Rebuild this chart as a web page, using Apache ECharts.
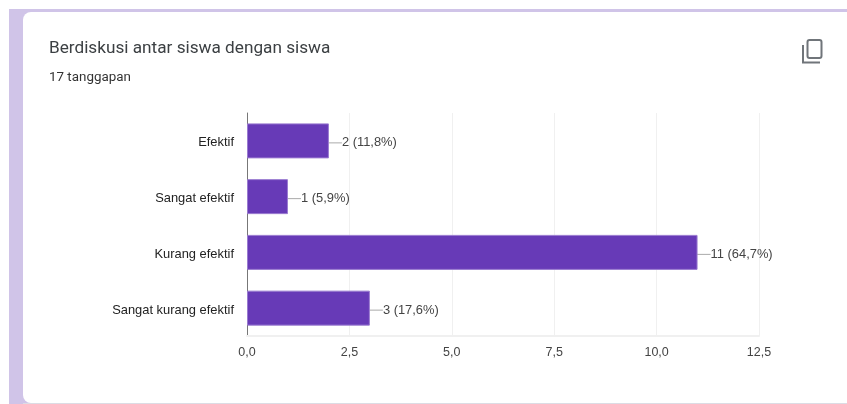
<!DOCTYPE html>
<html>
<head>
<meta charset="utf-8">
<style>
  html, body { margin: 0; padding: 0; background: #fff; }
  #chart { width: 847px; height: 404px; }
</style>
<script src="https://cdn.jsdelivr.net/npm/echarts@6/dist/echarts.min.js"></script>
</head>
<body>
<div id="chart"></div>
<script>
const categories = ['Efektif', 'Sangat efektif', 'Kurang efektif', 'Sangat kurang efektif']
const values = [2, 1, 11, 3]
const percents = ['11,8', '5,9', '64,7', '17,6']
const titleText = 'Berdiskusi antar siswa dengan siswa'
const subtitleText = '17 tanggapan'

const myChart = echarts.init(document.getElementById('chart'), null, { renderer: 'canvas' })
myChart.setOption({
  animation: false,
  backgroundColor: '#fff',
  grid: { left: 247, right: 88, top: 113, bottom: 68 },
  xAxis: {
    type: 'value',
    min: 0,
    max: 12.5,
    interval: 2.5,
    axisLine: { show: true, lineStyle: { color: '#f0f0f0', width: 2 } },
    axisTick: { show: false },
    splitLine: { lineStyle: { color: '#f0f0f0', width: 1 } },
    axisLabel: {
      color: '#444',
      fontFamily: 'Liberation Sans',
      fontSize: 12.5,
      margin: 10,
      formatter: v => v.toFixed(1).replace('.', ','),
    },
  },
  yAxis: {
    type: 'category',
    inverse: true,
    data: categories,
    axisLine: { lineStyle: { color: '#777', width: 1 } },
    axisTick: { show: false },
    axisLabel: {
      margin: 13,
      formatter: v => '{a|' + v + '}',
      rich: { a: { color: '#222', fontFamily: 'Liberation Sans', fontSize: 12.9, padding: [4, 0, 0, 0] } },
    },
  },
  series: [
    {
      type: 'bar',
      data: values,
      barWidth: 35,
      itemStyle: { color: '#673ab7', borderColor: '#9a7bd0', borderWidth: 1 },
      label: {
        show: true,
        position: 'right',
        distance: 0,
        formatter: p => '{a|' + p.value + ' (' + percents[p.dataIndex] + '%)}',
        rich: { a: { color: '#444', fontFamily: 'Liberation Sans', fontSize: 12.9, padding: [4, 0, 0, 0] } },
      },
      labelLayout: { dx: 13 },
      labelLine: { show: true, lineStyle: { color: '#aaa', width: 1 } },
    },
  ],
  graphic: [
    { type: 'rect', z: -10, shape: { x: 9, y: 9, width: 838, height: 395 }, style: { fill: '#d0c4e8' } },
    { type: 'rect', z: -9, shape: { x: 23, y: 12, width: 824, height: 391, r: [8, 0, 0, 8] }, style: { fill: '#fff' } },
    { type: 'rect', z: -10, shape: { x: 23, y: 403, width: 824, height: 1 }, style: { fill: '#dcdce4' } },
    { type: 'text', style: { x: 49, y: 49, text: titleText, fill: '#3c4043', font: '17.2px Roboto', textVerticalAlign: 'middle' } },
    { type: 'text', style: { x: 49, y: 78, text: subtitleText, fill: '#333', font: '13.4px Roboto', textVerticalAlign: 'middle' } },
    // copy icon
    { type: 'rect', shape: { x: 807.5, y: 40, width: 14, height: 18, r: 2 }, style: { fill: 'none', stroke: '#70757a', lineWidth: 2 } },
    { type: 'polyline', shape: { points: [[803, 45], [803, 62.5], [820, 62.5]] }, style: { fill: 'none', stroke: '#70757a', lineWidth: 2 } },
  ],
})
</script>
</body>
</html>
